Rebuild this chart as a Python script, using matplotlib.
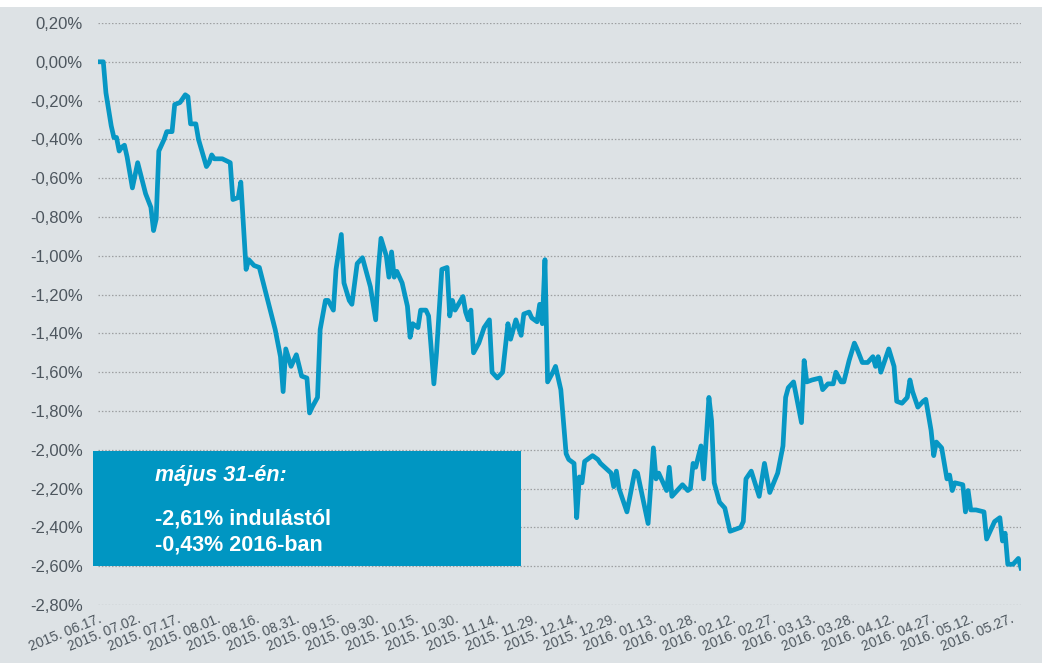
import pandas as pd
import numpy as np
import matplotlib
matplotlib.use("Agg")
import matplotlib.pyplot as plt
import matplotlib.transforms as mtransforms
from matplotlib.patches import Rectangle

plt.rcParams['font.family'] = ['Liberation Sans', 'DejaVu Sans']

START = pd.Timestamp("2015-06-17")

# days since start and cumulative return (%)
day = [0, 2, 3, 5, 6, 7, 8, 9, 10, 11, 13, 15, 18, 20, 21, 22, 23, 25, 26, 28,
       29, 31, 33, 34, 35, 37, 38, 41, 42, 43, 44, 47, 50, 51, 53, 54, 56, 57, 59, 61,
       64, 67, 69, 70, 71, 73, 75, 77, 79, 80, 81, 83, 84, 86, 87, 89, 90, 92, 93, 95,
       96, 98, 100, 101, 103, 105, 106, 107, 109, 110, 111, 112, 113, 115, 117, 118, 119, 121, 122, 124,
       125, 126, 127, 128, 130, 132, 133, 134, 135, 138, 139, 140, 141, 142, 144, 146, 148, 149, 151, 153,
       155, 156, 158, 160, 161, 163, 164, 166, 167, 168, 169, 170, 172, 173, 175, 177, 178, 180, 181, 182,
       183, 184, 187, 189, 190, 194, 195, 196, 197, 200, 203, 204, 208, 210, 211, 212, 215, 216, 217, 219,
       221, 223, 224, 225, 226, 228, 229, 231, 232, 233, 235, 237, 239, 243, 244, 245, 247, 250, 252, 254,
       257, 259, 260, 261, 263, 265, 266, 267, 268, 270, 273, 274, 276, 278, 279, 281, 282, 284, 286, 287,
       289, 291, 293, 294, 295, 296, 299, 301, 302, 304, 306, 307, 308, 310, 312, 313, 315, 316, 317, 319,
       321, 322, 323, 324, 327, 328, 329, 330, 332, 335, 336, 337, 339, 341, 342, 343, 344, 346, 348, 349]
ret = [0.00, 0.00, -0.16, -0.33, -0.39, -0.39, -0.46, -0.44, -0.43, -0.49, -0.65, -0.52, -0.68, -0.75, -0.87, -0.81, -0.46, -0.40, -0.36, -0.36,
       -0.22, -0.21, -0.17, -0.18, -0.32, -0.32, -0.40, -0.54, -0.52, -0.48, -0.50, -0.50, -0.52, -0.71, -0.70, -0.62, -1.07, -1.02, -1.05, -1.06,
       -1.22, -1.38, -1.52, -1.70, -1.48, -1.57, -1.51, -1.62, -1.63, -1.81, -1.78, -1.73, -1.38, -1.23, -1.23, -1.28, -1.07, -0.89, -1.14, -1.23,
       -1.25, -1.04, -1.01, -1.06, -1.16, -1.33, -1.07, -0.91, -1.00, -1.11, -0.98, -1.11, -1.08, -1.14, -1.26, -1.42, -1.35, -1.37, -1.28, -1.28,
       -1.31, -1.48, -1.66, -1.50, -1.07, -1.06, -1.31, -1.23, -1.28, -1.21, -1.29, -1.33, -1.28, -1.50, -1.45, -1.37, -1.33, -1.60, -1.63, -1.60,
       -1.35, -1.43, -1.33, -1.41, -1.30, -1.29, -1.32, -1.34, -1.25, -1.35, -1.02, -1.65, -1.60, -1.57, -1.69, -2.02, -2.05, -2.07, -2.35, -2.14,
       -2.17, -2.06, -2.03, -2.05, -2.07, -2.12, -2.19, -2.11, -2.20, -2.32, -2.11, -2.12, -2.38, -1.99, -2.15, -2.12, -2.21, -2.09, -2.24, -2.21,
       -2.18, -2.21, -2.20, -2.07, -2.09, -1.98, -2.15, -1.73, -1.85, -2.17, -2.27, -2.30, -2.42, -2.40, -2.37, -2.15, -2.11, -2.24, -2.07, -2.22,
       -2.12, -1.98, -1.73, -1.68, -1.65, -1.79, -1.86, -1.54, -1.65, -1.64, -1.63, -1.69, -1.66, -1.66, -1.60, -1.65, -1.65, -1.54, -1.45, -1.48,
       -1.55, -1.55, -1.52, -1.57, -1.52, -1.60, -1.48, -1.57, -1.75, -1.76, -1.73, -1.64, -1.70, -1.78, -1.75, -1.74, -1.90, -2.03, -1.96, -1.99,
       -2.15, -2.13, -2.21, -2.17, -2.18, -2.32, -2.21, -2.31, -2.31, -2.32, -2.46, -2.43, -2.37, -2.35, -2.47, -2.43, -2.59, -2.59, -2.56, -2.61]

tick_days = list(range(0, 349, 15))
yticks = [0.2, 0.0, -0.2, -0.4, -0.6, -0.8, -1.0, -1.2, -1.4, -1.6, -1.8, -2.0, -2.2, -2.4, -2.6, -2.8]

box_title = "május 31-én:"
box_lines = ["-2,61% indulástól", "-0,43% 2016-ban"]

BG = '#dde2e5'
BLUE = '#0797c4'
TXT = '#4d565e'

W, H = 1042, 663
fig = plt.figure(figsize=(W / 100, H / 100), dpi=100, facecolor=BG)
ax = fig.add_axes([98 / W, 1 - 605 / H, (1021 - 98) / W, (605 - 23) / H])
ax.set_facecolor('none')

dates = [START + pd.Timedelta(days=d) for d in day]
ax.plot(dates, ret, color=BLUE, lw=3.4, solid_joinstyle='round', zorder=3)

ax.set_xlim(START, START + pd.Timedelta(days=349))
ax.set_ylim(-2.8, 0.2)
ax.set_yticks(yticks)
ax.set_yticklabels([f"{v:.2f}%".replace('.', ',').replace('-0,00', '0,00') for v in yticks],
                   fontsize=12, color=TXT)
ax.yaxis.grid(True, color='#9d9fa1', linestyle=(0, (1.2, 1.5)), linewidth=0.9)
ax.xaxis.grid(False)

tdates = [START + pd.Timedelta(days=d) for d in tick_days]
ax.set_xticks(tdates)
ax.set_xticklabels([f"{d.year}. {d.month:02d}.{d.day:02d}." for d in tdates],
                   fontsize=10, color=TXT, rotation=22, ha='right', va='top',
                   rotation_mode='anchor')
offset = mtransforms.ScaledTranslation(-9 / 72, 0, fig.dpi_scale_trans)
for lab in ax.get_xticklabels():
    lab.set_transform(lab.get_transform() + offset)

ax.tick_params(axis='both', length=0)
ax.tick_params(axis='y', pad=11)
ax.tick_params(axis='x', pad=5)
for s in ax.spines.values():
    s.set_visible(False)

# white strip at the top of the original slide
fig.add_artist(Rectangle((0, 1 - 7 / H), 1, 7 / H, transform=fig.transFigure,
                         facecolor='white', edgecolor='none', zorder=0))

# annotation box
fig.add_artist(Rectangle((93 / W, 1 - 566 / H), (521 - 93) / W, (566 - 451) / H,
                         transform=fig.transFigure, facecolor='#0096c2',
                         edgecolor='none', zorder=5))
fig.text(155 / W, 1 - 476 / H, box_title, color='white', fontsize=15.5,
         fontstyle='italic', fontweight='bold', va='center', ha='left', zorder=6)
fig.text(155 / W, 1 - 519 / H, box_lines[0], color='white', fontsize=15.5,
         fontweight='bold', va='center', ha='left', zorder=6)
fig.text(155 / W, 1 - 545 / H, box_lines[1], color='white', fontsize=15.5,
         fontweight='bold', va='center', ha='left', zorder=6)

fig.savefig('out.png', dpi=100, facecolor=BG)
